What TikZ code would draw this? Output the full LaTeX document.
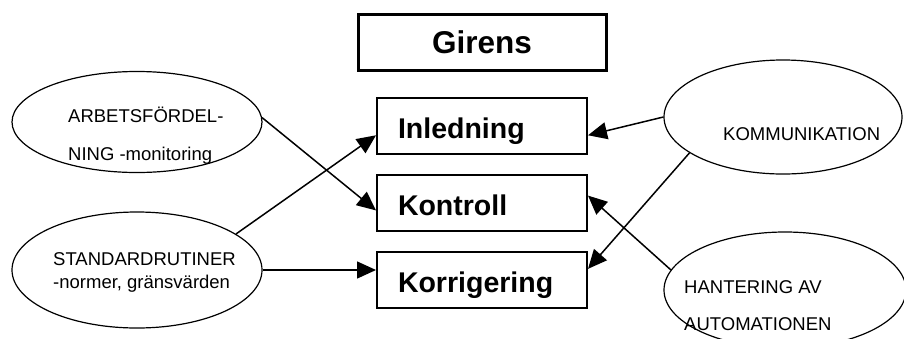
\documentclass[tikz,border=0pt]{standalone}
\usepackage{fontspec}
\setmainfont{Liberation Sans}
\usetikzlibrary{arrows.meta,positioning,shapes.geometric}

\begin{document}
\begin{tikzpicture}[
  x=1pt,y=-1pt,
  node distance=19pt,
  stage/.style={draw,line width=2pt,minimum width=210pt,minimum height=56pt,
    text width=168pt,inner xsep=21pt,align=left,text height=24pt,text depth=0pt,
    font=\fontsize{28.5}{32}\selectfont\bfseries},
  title/.style={draw,line width=3pt,minimum width=248pt,minimum height=56pt,
    text height=22.5pt,text depth=0pt,font=\fontsize{31.5}{34}\selectfont\bfseries},
  topic/.style={draw,ellipse,line width=1.2pt,inner sep=0pt},
  note/.style={anchor=base west,align=left,inner sep=0pt,
    font=\fontsize{18.5}{22}\selectfont},
  link/.style={line width=1.5pt,-{Triangle[length=19pt,width=17pt]}}
]
  \useasboundingbox (0,0) rectangle (904,338);
  \clip (0,0) rectangle (904,338);

  \node[stage] (inl) at (482,126) {Inledning};
  \node[stage,below=of inl] (kon) {Kontroll};
  \node[stage,below=of kon] (kor) {Korrigering};
  \node[title,above=25pt of inl] (gir) {Girens};

  \node[topic,minimum width=250pt,minimum height=101pt] (arb) at (137,122) {};
  \node[topic,minimum width=250pt,minimum height=116pt] (std) at (137,270) {};
  \node[topic,minimum width=238pt,minimum height=114pt] (kom) at (783,117) {};
  \node[topic,minimum width=242pt,minimum height=116pt] (hant) at (785,290) {};

  \node[note] (arbtext) at (68,160) {ARBETSFÖRDEL-\\[16pt]NING -monitoring};
  \node[note,font=\fontsize{18.5}{23}\selectfont] (stdtext) at (53,288)
    {STANDARDRUTINER\\-normer, gränsvärden};
  \node[note] (komtext) at (723,140) {KOMMUNIKATION};
  \node[note] (hanttext) at (684,330) {HANTERING AV\\[15pt]AUTOMATIONEN};

  \draw[link] (arb.2) -- (kon.184);
  \draw[link] (std.20) -- (inl.185);
  \draw[link] (std.east) -- (std.east -| kor.west);
  \draw[link] (kom.west) -- (inl.-5);
  \draw[link] (kom.201) -- (kor.6);
  \draw[link] (hant.170) -- (kon.4);
\end{tikzpicture}
\end{document}
